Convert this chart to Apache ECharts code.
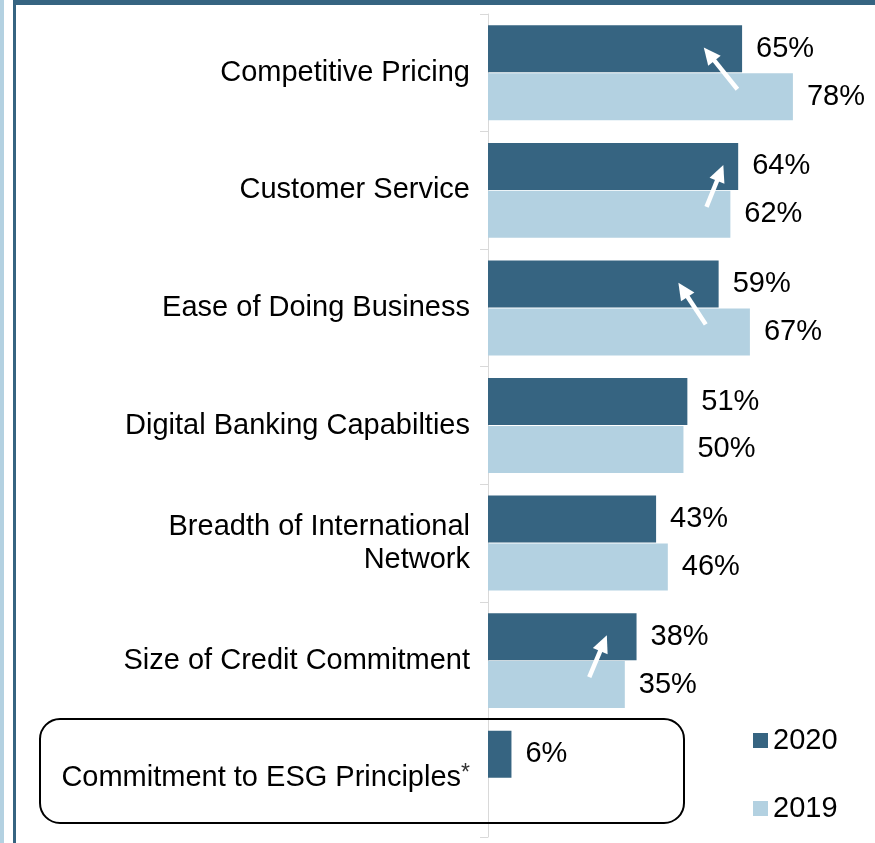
<!DOCTYPE html>
<html>
<head>
<meta charset="utf-8">
<script src="https://cdn.jsdelivr.net/npm/echarts@6/dist/echarts.min.js"></script>
<style>
  html, body { margin: 0; padding: 0; background: #fff; }
  #main { width: 875px; height: 843px; }
</style>
</head>
<body>
<div id="main"></div>
<script>
// 数据
const categories = [
  'Competitive Pricing',
  'Customer Service',
  'Ease of Doing Business',
  'Digital Banking Capabilties',
  'Breadth of International\nNetwork',
  'Size of Credit Commitment',
  'Commitment to ESG Principles*'
];
const values2020 = [65, 64, 59, 51, 43, 38, 6];
const values2019 = [78, 62, 67, 50, 46, 35, null];
// 箭头: [起点值, 类目序号, 终点值]
const arrows = [
  [63.8, 0, 55.2],
  [55.9, 1, 60.2],
  [55.7, 2, 48.7],
  [25.9, 5, 30.4]
];

const darkBlue = '#366481';
const lightBlue = '#b3d1e1';
const font = 'Liberation Sans, Arial, sans-serif';

const chart = echarts.init(document.getElementById('main'));

const valueLabel = {
  show: true,
  position: 'right',
  distance: 14,
  fontSize: 29,
  fontFamily: font,
  color: '#000',
  formatter: p => (p.value == null ? '' : p.value + '%')
};

// 绘制箭头
const renderArrow = (params, api) => {
  const band = api.size([0, 1])[1];
  const tail = api.coord([api.value(0), api.value(1)]);
  const tip = api.coord([api.value(2), api.value(1)]);
  tail[1] += band * 0.14;
  tip[1] -= band * 0.215;
  const dx = tip[0] - tail[0];
  const dy = tip[1] - tail[1];
  const len = Math.sqrt(dx * dx + dy * dy);
  const ux = dx / len, uy = dy / len;
  const headLen = 17, headHalf = 8;
  const bx = tip[0] - ux * headLen, by = tip[1] - uy * headLen;
  return {
    type: 'group',
    children: [
      {
        type: 'line',
        shape: { x1: tail[0], y1: tail[1], x2: bx + ux * 2, y2: by + uy * 2 },
        style: { stroke: '#fff', lineWidth: 4.5 }
      },
      {
        type: 'polygon',
        shape: {
          points: [
            [tip[0], tip[1]],
            [bx - uy * headHalf, by + ux * headHalf],
            [bx + uy * headHalf, by - ux * headHalf]
          ]
        },
        style: { fill: '#fff' }
      }
    ]
  };
};

chart.setOption({
  animation: false,
  textStyle: { fontFamily: font },
  grid: {
    left: 488,
    top: 14,
    right: 0,
    bottom: 6
  },
  legend: {
    orient: 'vertical',
    left: 748,
    top: 721,
    itemWidth: 15,
    itemHeight: 15,
    itemGap: 39,
    icon: 'rect',
    data: ['2020', '2019'],
    textStyle: { fontSize: 29, fontFamily: font, color: '#000' }
  },
  xAxis: {
    type: 'value',
    min: 0,
    max: 99,
    show: false
  },
  yAxis: {
    type: 'category',
    inverse: true,
    data: categories,
    axisLine: { show: true, lineStyle: { color: '#d9d9d9', width: 1 } },
    axisTick: { show: true, length: 8, lineStyle: { color: '#d9d9d9' } },
    axisLabel: {
      margin: 18,
      fontSize: 29,
      lineHeight: 33,
      fontFamily: font,
      color: '#000',
      formatter: v => (v.endsWith('*') ? '{a|' + v.slice(0, -1) + '}{sup|*}' : v),
      rich: {
        a: { fontSize: 29, fontFamily: font, color: '#000', lineHeight: 33 },
        sup: { fontSize: 23, fontFamily: font, color: '#333', verticalAlign: 'top', lineHeight: 33 }
      }
    }
  },
  graphic: [
    { type: 'rect', shape: { x: 0, y: 0, width: 4, height: 843 }, style: { fill: lightBlue } },
    { type: 'rect', shape: { x: 13, y: 0, width: 3, height: 843 }, style: { fill: darkBlue } },
    { type: 'rect', shape: { x: 13, y: 0, width: 862, height: 5 }, style: { fill: darkBlue } },
    {
      type: 'rect',
      z: 100,
      shape: { x: 40, y: 719, width: 644, height: 104, r: 20 },
      style: { fill: 'none', stroke: '#000', lineWidth: 2 }
    }
  ],
  series: [
    {
      name: '2020',
      type: 'bar',
      data: values2020,
      barWidth: 47,
      barGap: '2%',
      itemStyle: { color: darkBlue },
      label: valueLabel
    },
    {
      name: '2019',
      type: 'bar',
      data: values2019,
      barWidth: 47,
      itemStyle: { color: lightBlue },
      label: valueLabel
    },
    {
      name: 'arrows',
      type: 'custom',
      renderItem: renderArrow,
      encode: { x: [0, 2], y: 1 },
      data: arrows,
      z: 10,
      silent: true
    }
  ]
});
</script>
</body>
</html>
